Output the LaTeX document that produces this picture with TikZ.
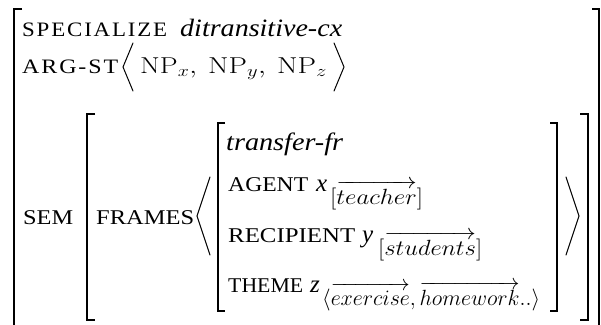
\RequirePackage{fix-cm}
\documentclass[tikz,border=0pt]{standalone}
\usepackage[no-math]{fontspec}
\setmainfont{Liberation Serif}
\newfontfamily\scfont[LetterSpace=8]{Liberation Serif}
\usepackage{amsmath}
\usepackage{graphicx}
\newcommand{\fitw}[2]{\resizebox{#1}{\height}{#2}}
\begin{document}
\begin{tikzpicture}[x=1pt,y=-1pt,
  txt/.style={anchor=base west,inner sep=0pt,font=\fontsize{21}{25}\selectfont},
  sct/.style={anchor=base west,inner sep=0pt,font=\fontsize{20.5}{24}\scfont},
  itx/.style={anchor=base west,inner sep=0pt,font=\fontsize{25}{29}\selectfont\itshape},
  mth/.style={anchor=base west,inner sep=0pt,font=\fontsize{23}{27}\selectfont},
  sub/.style={anchor=base west,inner sep=0pt,font=\fontsize{22}{26}\selectfont},
  outerbr/.style={line width=2pt,line cap=butt},
  innerbr/.style={line width=1.6pt},
  angbr/.style={line width=1pt,line cap=round,line join=miter}]
\useasboundingbox (0,0) rectangle (601,324);
% outer bracket
\draw[outerbr] (22,9) -- (14,9) -- (14,330);
\draw[outerbr] (592,9) -- (599,9) -- (599,330);
% SEM bracket
\draw[innerbr] (95,114) -- (87,114) -- (87,320) -- (95,320);
\draw[innerbr] (580,114) -- (588,114) -- (588,320) -- (580,320);
% frame bracket
\draw[innerbr] (225,123) -- (218,123) -- (218,311) -- (225,311);
\draw[innerbr] (550,123) -- (557,123) -- (557,311) -- (550,311);
% FRAMES angles
\draw[angbr] (210,177) -- (197,216) -- (210,255);
\draw[angbr] (566,177) -- (579,216) -- (566,255);
% ARG-ST angles
\draw[angbr] (133,43) -- (123,67) -- (133,91);
\draw[angbr] (334,43) -- (344,67) -- (334,91);
% row 1
\node[sct] (spec) at (22,36) {\fitw{145pt}{SPECIALIZE}};
\node[itx] (ditr) at (180,36) {\fitw{162pt}{ditransitive-cx}};
% row 2
\node[sct] (argst) at (22,73) {\fitw{96pt}{ARG-ST}};
\node[mth] (npx) at (140,73) {\fitw{57pt}{$\mathrm{NP}_x,$}};
\node[mth] (npy) at (208,73) {\fitw{58pt}{$\mathrm{NP}_y,$}};
\node[mth] (npz) at (277,73) {\fitw{50pt}{$\mathrm{NP}_z$}};
% SEM / FRAMES
\node[txt] (sem) at (23,224) {\fitw{50pt}{SEM}};
\node[txt] (frames) at (96,224) {\fitw{98pt}{FRAMES}};
% frame content
\node[itx] (tfr) at (226,150) {\fitw{117pt}{transfer-fr}};
\node[txt] (agent) at (228,191) {\fitw{80pt}{AGENT}};
\node[itx] (xv) at (316,191) {x};
\node[sub] (xs) at (330,204) {\fitw{93pt}{$[\overrightarrow{teacher}]$}};
\node[txt] (recip) at (228,242) {\fitw{127pt}{RECIPIENT}};
\node[itx] (yv) at (362,242) {y};
\node[sub] (ys) at (378,255) {\fitw{104pt}{$[\overrightarrow{students}]$}};
\node[txt] (theme) at (228,292) {\fitw{75pt}{THEME}};
\node[itx] (zv) at (310,292) {z};
\node[sub] (zs) at (322,305) {\fitw{218pt}{$\langle\overrightarrow{exercise},\overrightarrow{homework}..\rangle$}};
\end{tikzpicture}
\end{document}
